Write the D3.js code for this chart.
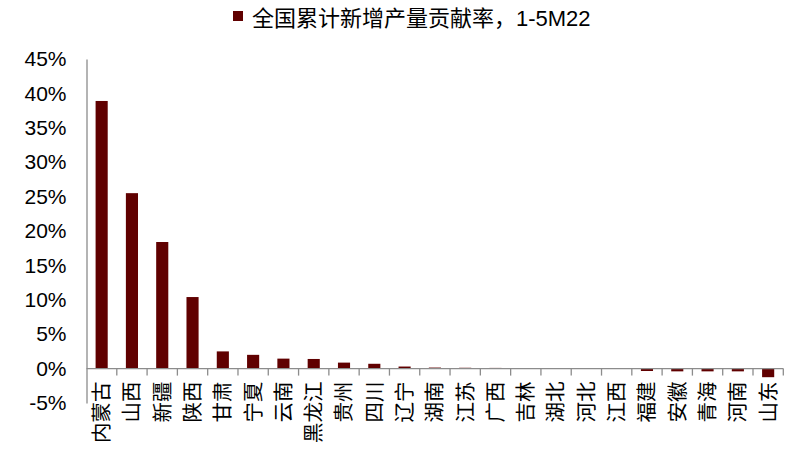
<!DOCTYPE html>
<html>
<head>
<meta charset="utf-8">
<script src="https://cdn.jsdelivr.net/npm/d3@7"></script>
<style>
  body { margin: 0; background: #fff; }
  text { font-family: "Liberation Sans", "Noto Sans CJK SC", sans-serif; }
</style>
</head>
<body>
<div id="chart"></div>
<script>
var provinces = ["内蒙古", "山西", "新疆", "陕西", "甘肃", "宁夏", "云南", "黑龙江", "贵州", "四川", "辽宁", "湖南",
                 "江苏", "广西", "吉林", "湖北", "河北", "江西", "福建", "安徽", "青海", "河南", "山东"];
var contribution = [38.9, 25.5, 18.4, 10.4, 2.5, 2.0, 1.45, 1.4, 0.87, 0.7, 0.3, 0.15,
                    0.12, 0.1, 0.06, 0.05, 0, -0.03, -0.35, -0.4, -0.4, -0.4, -1.25];
var yTicks = [-5, 0, 5, 10, 15, 20, 25, 30, 35, 40, 45];
var seriesName = "全国累计新增产量贡献率，1-5M22";

var barColor = "#600000";
var axisColor = "#8c8c8c";

var svgContainer = d3.select("#chart").append("svg")
                     .attr("width", 799)
                     .attr("height", 462);

var x = d3.scaleBand()
          .domain(provinces)
          .range([86.5, 783.3]);

var y = d3.scaleLinear()
          .domain([-5, 45])
          .range([403, 59]);

// y axis
var yAxis = svgContainer.append("g")
                        .attr("transform", "translate(86.5,0)")
                        .call(d3.axisLeft(y)
                                .tickValues(yTicks)
                                .tickSize(0)
                                .tickPadding(20)
                                .tickFormat(function (d) { return d + "%"; }));
yAxis.select(".domain").attr("stroke", axisColor).attr("stroke-width", 1.3);
yAxis.selectAll("text")
     .style("font-size", "21px")
     .attr("fill", "#000");

// bars
svgContainer.selectAll("rect.bar")
            .data(contribution)
            .enter()
            .append("rect")
            .attr("class", "bar")
            .attr("x", function (d, i) { return x(provinces[i]) + x.bandwidth() * 0.3; })
            .attr("width", x.bandwidth() * 0.4)
            .attr("y", function (d) { return y(Math.max(d, 0)); })
            .attr("height", function (d) { return Math.abs(y(d) - y(0)); })
            .style("fill", barColor);

// x axis line at zero with ticks between categories
var zeroY = y(0);
svgContainer.append("line")
            .attr("x1", x.range()[0]).attr("x2", x.range()[1])
            .attr("y1", zeroY).attr("y2", zeroY)
            .attr("stroke", axisColor).attr("stroke-width", 1.3);

svgContainer.selectAll("line.xtick")
            .data(provinces)
            .enter()
            .append("line")
            .attr("class", "xtick")
            .attr("x1", function (d) { return x(d) + x.step(); })
            .attr("x2", function (d) { return x(d) + x.step(); })
            .attr("y1", zeroY)
            .attr("y2", zeroY + 7)
            .attr("stroke", axisColor).attr("stroke-width", 1.3);

// category labels, rotated
svgContainer.selectAll("text.xlabel")
            .data(provinces)
            .enter()
            .append("text")
            .attr("class", "xlabel")
            .attr("transform", function (d) {
                return "translate(" + (x(d) + x.bandwidth() / 2) + "," + (zeroY + 13) + ") rotate(-90)";
            })
            .attr("dy", "0.36em")
            .attr("text-anchor", "end")
            .style("font-size", "20.5px")
            .attr("fill", "#000")
            .text(function (d) { return d; });

// legend
svgContainer.append("rect")
            .attr("x", 233).attr("y", 11)
            .attr("width", 10).attr("height", 10)
            .style("fill", barColor);
svgContainer.append("text")
            .attr("x", 252).attr("y", 26)
            .style("font-size", "22px")
            .attr("fill", "#000")
            .text(seriesName);
</script>
</body>
</html>
